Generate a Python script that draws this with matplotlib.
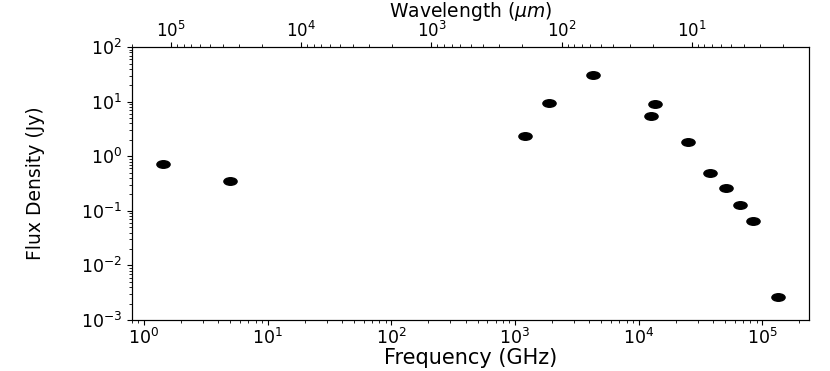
import numpy as np
import matplotlib
matplotlib.use("Agg")
import matplotlib.pyplot as plt
from matplotlib.path import Path
from matplotlib.ticker import LogLocator, NullFormatter

# Data (frequency in GHz, flux density in Jy)
freq_ghz = [1.42, 4.97, 1200, 1870, 4300, 12500, 13600, 24900, 37500, 51400, 66400, 83500, 135000]
flux_jy = [0.72, 0.35, 2.37, 9.3, 31.0, 5.45, 9.2, 1.85, 0.49, 0.265, 0.128, 0.065, 0.00264]

freq_lim = (0.8, 2.4e5)
wave_lim = (2e5, 1.25)
flux_lim = (1e-3, 1e2)

plt.rcParams['font.family'] = ['DejaVu Sans']

fig = plt.figure(figsize=(8.3, 3.71), dpi=100)
ax = fig.add_axes([0.159, 0.1375, 0.816, 0.7355])

# elliptical marker (horizontally stretched circle)
circ = Path.unit_circle()
ell = Path(circ.vertices * np.array([1.75, 1.0]), circ.codes)

ax.plot(freq_ghz, flux_jy, linestyle='none', marker=ell, markersize=9.5,
        color='black')
ax.set_xscale('log')
ax.set_yscale('log')
ax.set_xlim(*freq_lim)
ax.set_ylim(*flux_lim)
ax.xaxis.set_minor_locator(LogLocator(base=10, subs=np.arange(2, 10), numticks=20))
ax.yaxis.set_minor_locator(LogLocator(base=10, subs=np.arange(2, 10), numticks=20))
ax.xaxis.set_minor_formatter(NullFormatter())
ax.yaxis.set_minor_formatter(NullFormatter())
ax.set_xlabel('Frequency (GHz)', fontsize=15, labelpad=0)
ax.set_ylabel('Flux Density (Jy)', fontsize=13.5, labelpad=26)
ax.tick_params(labelsize=12.5)
ax.tick_params(axis='x', pad=2)

ax2 = ax.twiny()
ax2.set_xscale('log')
ax2.set_xlim(*wave_lim)
ax2.xaxis.set_minor_locator(LogLocator(base=10, subs=np.arange(2, 10), numticks=20))
ax2.xaxis.set_minor_formatter(NullFormatter())
ax2.set_xlabel('Wavelength ($\\mu m$)', fontsize=13.5, labelpad=3)
ax2.tick_params(labelsize=12, pad=1)

fig.savefig('out.png', dpi=100)
